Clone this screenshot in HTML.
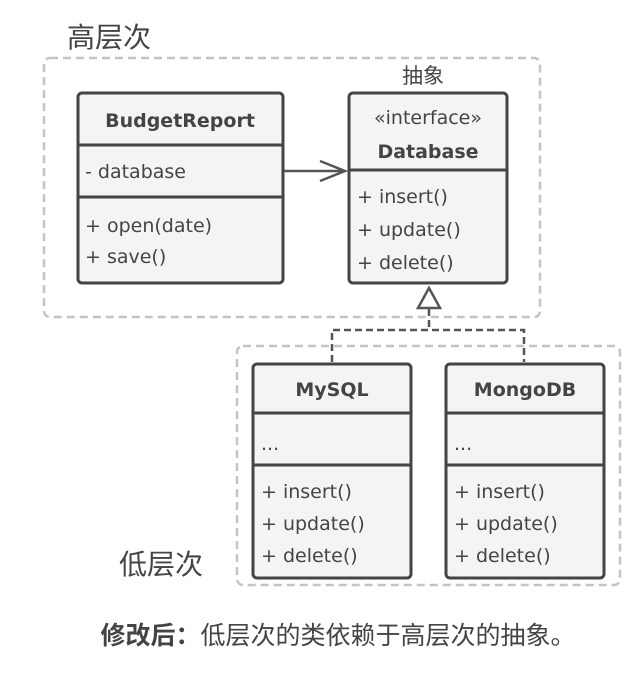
<!DOCTYPE html>
<html><head><meta charset="utf-8"><style>
body{margin:0;width:644px;height:670px;background:#fff;overflow:hidden}
svg text{font-family:"DejaVu Sans","Liberation Sans","Noto Sans CJK SC",sans-serif;fill:#444}
svg text.cjk{font-family:"Noto Sans CJK SC","WenQuanYi Zen Hei",sans-serif}
</style></head><body>
<svg width="644" height="670" xmlns="http://www.w3.org/2000/svg">
<rect x="44" y="58" width="496" height="259" rx="6" fill="none" stroke="#c4c4c4" stroke-width="2.5" stroke-dasharray="8,5"/>
<rect x="237" y="346" width="383" height="239" rx="6" fill="none" stroke="#c4c4c4" stroke-width="2.5" stroke-dasharray="8,5"/>
<text class="cjk" x="67" y="47" style="font-size:28px">高层次</text>
<text class="cjk" x="402" y="83" style="font-size:21px">抽象</text>
<text class="cjk" x="119" y="574" style="font-size:28px">低层次</text>
<g stroke="#444" stroke-width="3" fill="#f4f4f4">
<rect x="78" y="93" width="205" height="190" rx="4"/>
<line x1="78" y1="145" x2="283" y2="145"/><line x1="78" y1="197" x2="283" y2="197"/>
<rect x="349" y="93" width="158" height="190" rx="4"/>
<line x1="349" y1="170" x2="507" y2="170"/>
<rect x="253" y="364" width="158" height="214" rx="4"/>
<line x1="253" y1="413" x2="411" y2="413"/><line x1="253" y1="465" x2="411" y2="465"/>
<rect x="446" y="364" width="158" height="214" rx="4"/>
<line x1="446" y1="413" x2="604" y2="413"/><line x1="446" y1="465" x2="604" y2="465"/>
</g>
<g stroke="#555" stroke-width="2.5" fill="none">
<line x1="284" y1="171" x2="345" y2="171"/>
<polyline points="320,161 345,171 320,181"/>
<polygon points="429,288 418,308 440,308" fill="#fff"/>
<path d="M429 309 V330 M332 362 V330 H524 V362" stroke-dasharray="7,4"/>
</g>
<g font-size="19">
<text x="180" y="127" text-anchor="middle" font-weight="bold">BudgetReport</text>
<text x="85" y="178">- database</text>
<text x="85" y="232">+ open(date)</text>
<text x="85" y="263">+ save()</text>
<text x="428" y="124" text-anchor="middle">«interface»</text>
<text x="428" y="158" text-anchor="middle" font-weight="bold">Database</text>
<text x="357" y="203">+ insert()</text>
<text x="357" y="236">+ update()</text>
<text x="357" y="269">+ delete()</text>
<text x="332" y="396" text-anchor="middle" font-weight="bold">MySQL</text>
<text x="261" y="450">...</text>
<text x="261" y="498">+ insert()</text>
<text x="261" y="530">+ update()</text>
<text x="261" y="562">+ delete()</text>
<text x="525" y="396" text-anchor="middle" font-weight="bold">MongoDB</text>
<text x="454" y="450">...</text>
<text x="454" y="498">+ insert()</text>
<text x="454" y="530">+ update()</text>
<text x="454" y="562">+ delete()</text>
</g>
<text class="cjk" x="338" y="644" text-anchor="middle" style="font-size:25px"><tspan font-weight="bold">修改后：</tspan>低层次的类依赖于高层次的抽象。</text>
</svg>
</body></html>
